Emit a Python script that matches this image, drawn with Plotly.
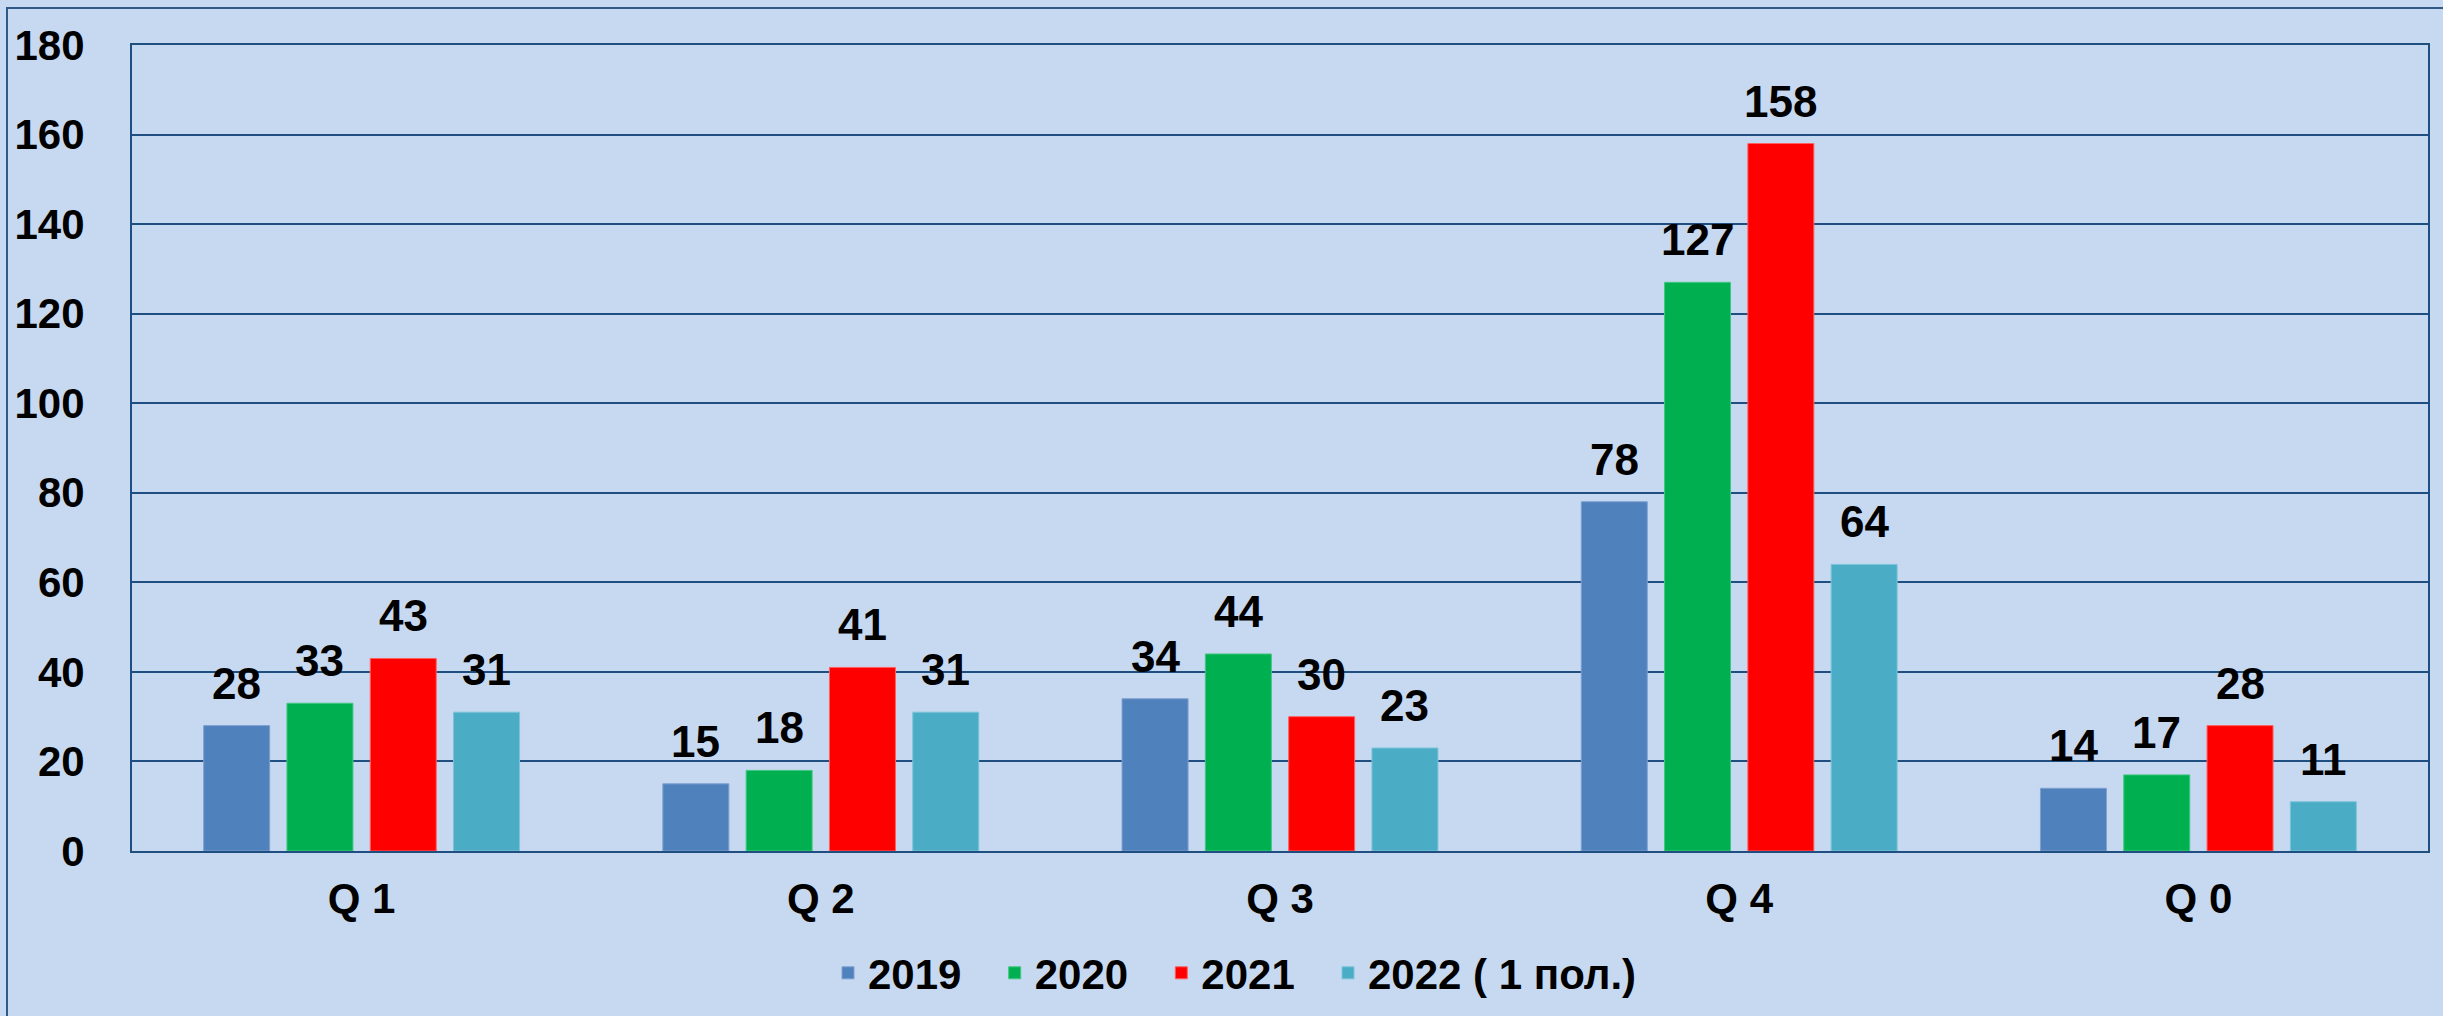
import plotly.graph_objects as go

categories = ["Q 1", "Q 2", "Q 3", "Q 4", "Q 0"]
series_names = ["2019", "2020", "2021", "2022 ( 1 пол.)"]
v2019 = [28, 15, 34, 78, 14]
v2020 = [33, 18, 44, 127, 17]
v2021 = [43, 41, 30, 158, 28]
v2022 = [31, 31, 23, 64, 11]
y_ticks = [0, 20, 40, 60, 80, 100, 120, 140, 160, 180]

series_values = [v2019, v2020, v2021, v2022]
colors = ["#4F81BD", "#00B050", "#FF0000", "#4BACC6"]
edge = ["#7F9FCF", "#40C880", "#FF6060", "#7CC4D8"]

slot = 0.1814
bw = 0.1437
n = len(series_names)
xs = list(range(len(categories)))

W, H = 2443, 1016
L, R, T, B = 132, 15, 45, 165
PW, PH = W - L - R, H - T - B

legend_ids = ["legend", "legend2", "legend3", "legend4"]
legend_px = [828, 994.7, 1161.3, 1328]
legend_font = dict(family="Liberation Sans, Arial", size=42, color="black", weight="bold")

fig = go.Figure()
annotations = []
for k, (name, vals) in enumerate(zip(series_names, series_values)):
    off = (k - (n - 1) / 2) * slot
    px = [x + off for x in xs]
    fig.add_trace(go.Bar(
        x=px, y=vals, name=name, width=bw, legend=legend_ids[k],
        marker=dict(color=colors[k], line=dict(color=edge[k], width=1)),
        hoverinfo="y",
    ))
    for xx, vv in zip(px, vals):
        annotations.append(dict(
            x=xx, y=vv, xref="x", yref="y", text=str(vv), showarrow=False,
            yanchor="bottom", yshift=16,
            font=dict(family="Liberation Sans, Arial", size=44, color="black", weight="bold"),
        ))

legends = {}
for k, lid in enumerate(legend_ids):
    legends[lid] = dict(
        orientation="h", x=(legend_px[k] - L) / PW, xanchor="left",
        y=(H - B - 973) / PH, yanchor="middle",
        font=legend_font, bgcolor="rgba(0,0,0,0)",
    )

fig.update_layout(
    width=W, height=H,
    margin=dict(l=L, r=R, t=T, b=B, autoexpand=False),
    paper_bgcolor="#C6D9F1", plot_bgcolor="#C6D9F1",
    barmode="overlay",
    showlegend=True,
    annotations=annotations,
    shapes=[dict(type="rect", xref="paper", yref="paper",
                 x0=(7 - L) / PW, x1=(W + 10 - L) / PW,
                 y0=(H - B - H - 10) / PH, y1=(H - B - 8) / PH,
                 line=dict(color="#2F5A88", width=2), fillcolor="rgba(0,0,0,0)", layer="below")],
    **legends,
)
fig.update_xaxes(
    range=[-0.5, 4.5], tickmode="array", tickvals=xs, ticktext=categories,
    showgrid=False, zeroline=False, showline=True, mirror=True, automargin=False,
    linecolor="#1F4E80", linewidth=2, ticks="", ticklabelstandoff=10,
    tickfont=dict(family="Liberation Sans, Arial", size=42, color="black", weight="bold"),
)
fig.update_yaxes(
    range=[0, 180], tickmode="array", tickvals=y_ticks,
    showgrid=True, gridcolor="#1F4E80", gridwidth=2, zeroline=False, automargin=False,
    showline=True, mirror=True, linecolor="#1F4E80", linewidth=2,
    ticks="", ticklabelstandoff=37,
    tickfont=dict(family="Liberation Sans, Arial", size=42, color="black", weight="bold"),
)
fig.write_html(
    "out.html",
    config={"displayModeBar": False},
    post_script="document.body.style.margin='0';document.body.style.overflow='hidden';",
)
